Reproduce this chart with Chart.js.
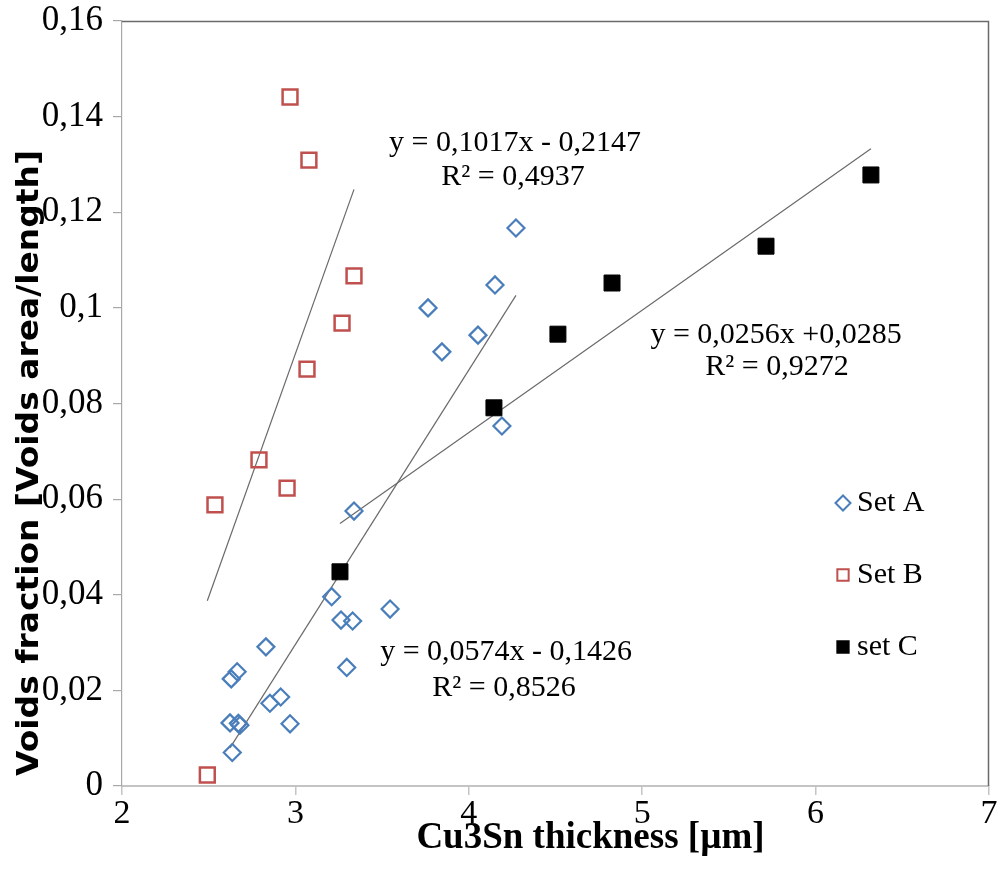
<!DOCTYPE html>
<html>
<head>
<meta charset="utf-8">
<script src="https://cdn.jsdelivr.net/npm/chart.js@4.4.1/dist/chart.umd.min.js"></script>
<style>
  html, body { margin: 0; padding: 0; background: #ffffff; }
  #wrap { width: 998px; height: 878px; }
</style>
</head>
<body>
<div id="wrap"><canvas id="chart" width="998" height="878"></canvas></div>
<script>
// Cu3Sn thickness [µm] and voids fraction for each sample set
const setAX = [4.272, 4.151, 3.765, 4.053, 3.845, 4.191, 3.338, 3.209, 3.546, 3.263, 3.330,
               2.830, 2.664, 2.630, 2.915, 2.853, 3.296, 2.623, 2.671, 2.680, 2.969, 2.636];
const setAY = [0.1167, 0.1048, 0.1000, 0.0943, 0.0908, 0.0753, 0.0575, 0.0396, 0.0370, 0.0347, 0.0345,
               0.0291, 0.0239, 0.0224, 0.0186, 0.0173, 0.0248, 0.0132, 0.0131, 0.0127, 0.0130, 0.0070];

const setBX = [2.969, 3.078, 3.338, 3.269, 3.067, 2.790, 2.952, 2.536, 2.492];
const setBY = [0.1441, 0.1309, 0.1067, 0.0968, 0.0872, 0.0682, 0.0623, 0.0588, 0.0023];

const setCX = [3.257, 4.145, 4.514, 4.826, 5.714, 6.319];
const setCY = [0.0448, 0.0791, 0.0945, 0.1052, 0.1129, 0.1278];

const seriesNames = ['Set A', 'Set B', 'set C'];

// Linear trend lines (slope, intercept) for sets A, B, C
const trendSlope     = [0.0574, 0.1017, 0.0256];
const trendIntercept = [-0.1426, -0.2147, -0.0285];

// Equation labels and where they sit (in axis units)
const eqLines = ['y = 0,0574x - 0,1426', 'R² = 0,8526',
                 'y = 0,1017x - 0,2147', 'R² = 0,4937',
                 'y = 0,0256x +0,0285', 'R² = 0,9272'];
const eqX = [4.215, 4.203, 4.266, 4.255, 5.772, 5.777];
const eqY = [0.0280, 0.0205, 0.1345, 0.1274, 0.0943, 0.0876];

// Axis ticks
const xTickValues = [2, 3, 4, 5, 6, 7];
const yTickLabels = ['0', '0,02', '0,04', '0,06', '0,08', '0,1', '0,12', '0,14', '0,16'];

const xTitle = 'Cu3Sn thickness [µm]';
const yTitle = 'Voids fraction [Voids area/length]';

function toPoints(xs, ys) { return xs.map((x, i) => ({ x: x, y: ys[i] })); }
function trendPoints(xs, k) {
  const lo = Math.min(...xs), hi = Math.max(...xs);
  return [lo, hi].map(x => ({ x: x, y: trendSlope[k] * x + trendIntercept[k] }));
}

const SERIF = '"Liberation Serif", "Times New Roman", serif';
const BLUE = '#4a7ebb', RED = '#c0504d', LINE = '#6a6a6a';

// Top/right frame of the plot area
const framePlugin = {
  id: 'frame',
  beforeDatasetsDraw(chart) {
    const { ctx, chartArea: a } = chart;
    ctx.save();
    ctx.strokeStyle = '#6a6a6a';
    ctx.lineWidth = 1.5;
    ctx.beginPath();
    ctx.moveTo(a.left, a.top + 0.5);
    ctx.lineTo(a.right - 0.5, a.top + 0.5);
    ctx.lineTo(a.right - 0.5, a.bottom);
    ctx.stroke();
    ctx.restore();
  }
};

// Equation labels, legend and axis titles
const textPlugin = {
  id: 'texts',
  afterDraw(chart) {
    const { ctx, chartArea: a, scales } = chart;
    ctx.save();
    ctx.fillStyle = '#000';
    ctx.textAlign = 'center';
    ctx.textBaseline = 'middle';
    ctx.font = '30px ' + SERIF;
    eqLines.forEach((t, i) => {
      ctx.fillText(t, scales.x.getPixelForValue(eqX[i]), scales.y.getPixelForValue(eqY[i]));
    });

    // legend
    const lx = a.right - 146, ly0 = a.top + 482, step = 72;
    chart.data.datasets.filter(d => d.type === 'scatter').forEach((d, i) => {
      const y = ly0 + i * step;
      ctx.fillStyle = d.backgroundColor;
      ctx.strokeStyle = d.borderColor;
      ctx.lineWidth = 2;
      Chart.helpers.drawPoint(ctx, {
        pointStyle: d.pointStyle,
        radius: d.pointStyle === 'rectRot' ? 7.5 : 8,
        borderWidth: 2
      }, lx, y);
      ctx.fillStyle = '#000';
      ctx.textAlign = 'left';
      ctx.font = '30px ' + SERIF;
      ctx.fillText(d.label, lx + 14, y);
    });

    // x title
    ctx.textAlign = 'center';
    ctx.font = 'bold 37px ' + SERIF;
    ctx.fillText(xTitle, (a.left + a.right) / 2 + 35, a.bottom + 52);

    // y title, rotated
    ctx.font = 'bold 31px "DejaVu Sans", sans-serif';
    const w = ctx.measureText(yTitle).width;
    ctx.translate(30, 463);
    ctx.rotate(-Math.PI / 2);
    ctx.scale(626 / w, 1);
    ctx.fillText(yTitle, 0, 0);
    ctx.restore();
  }
};

new Chart(document.getElementById('chart'), {
  data: {
    datasets: [
      { type: 'line', label: 'trend A', data: trendPoints(setAX, 0), borderColor: LINE, borderWidth: 1.2, pointRadius: 0, fill: false, order: 5 },
      { type: 'line', label: 'trend B', data: trendPoints(setBX, 1), borderColor: LINE, borderWidth: 1.2, pointRadius: 0, fill: false, order: 5 },
      { type: 'line', label: 'trend C', data: trendPoints(setCX, 2), borderColor: LINE, borderWidth: 1.2, pointRadius: 0, fill: false, order: 5 },
      { type: 'scatter', label: seriesNames[0], data: toPoints(setAX, setAY), pointStyle: 'rectRot', pointRadius: 8.5,
        borderColor: BLUE, backgroundColor: 'rgba(255,255,255,0)', pointBorderWidth: 2.2, order: 1 },
      { type: 'scatter', label: seriesNames[1], data: toPoints(setBX, setBY), pointStyle: 'rect', pointRadius: 10.5,
        borderColor: RED, backgroundColor: 'rgba(255,255,255,0)', pointBorderWidth: 2.5, order: 2 },
      { type: 'scatter', label: seriesNames[2], data: toPoints(setCX, setCY), pointStyle: 'rect', pointRadius: 11.3,
        borderColor: '#000', backgroundColor: '#000', pointBorderWidth: 1, order: 0 }
    ]
  },
  options: {
    responsive: false,
    animation: false,
    events: [],
    layout: { autoPadding: false, padding: { top: 21, right: 9, left: 0, bottom: 0 } },
    plugins: { legend: { display: false }, tooltip: { enabled: false } },
    scales: {
      x: {
        type: 'linear', min: 2, max: 7,
        afterBuildTicks(s) { s.ticks = xTickValues.map(v => ({ value: v })); },
        ticks: { font: { family: SERIF, size: 34 }, color: '#000', padding: -1, maxRotation: 0,
                 callback: v => String(v) },
        grid: { drawOnChartArea: false, color: '#c4c4c4', tickLength: 9, lineWidth: 1.5 },
        border: { color: '#c4c4c4', width: 2 },
        afterFit(s) { s.height = 92; s.paddingLeft = 0; s.paddingRight = 0; }
      },
      y: {
        type: 'linear', min: 0, max: 0.16,
        afterBuildTicks(s) { s.ticks = yTickLabels.map((t, i) => ({ value: i * 0.02 })); },
        ticks: { font: { family: SERIF, size: 35 }, color: '#000', padding: 10,
                 callback: (v, i) => yTickLabels[i] },
        grid: { drawOnChartArea: false, color: '#a8a8a8', tickLength: 9, lineWidth: 1.2 },
        border: { color: '#a8a8a8', width: 1.2 },
        afterFit(s) { s.width = 122; s.paddingTop = 0; s.paddingBottom = 0; }
      }
    }
  },
  plugins: [framePlugin, textPlugin]
});
</script>
</body>
</html>
